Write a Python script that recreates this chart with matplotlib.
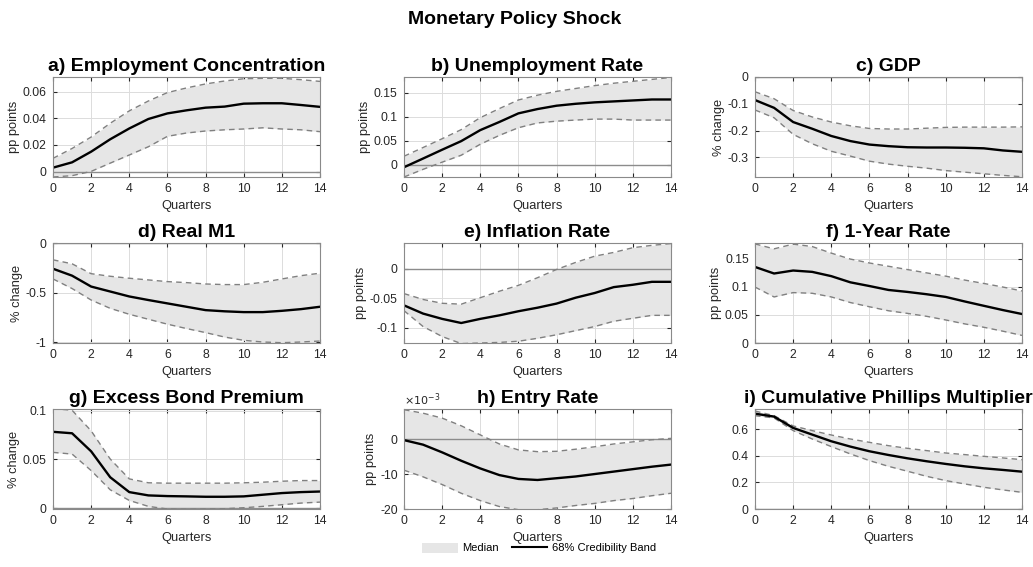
#!/usr/bin/env python3
"""Impulse responses to a monetary policy shock, 3x3 panel grid."""

import matplotlib

matplotlib.use("Agg")

import matplotlib.pyplot as plt
import numpy as np
from matplotlib.lines import Line2D
from matplotlib.patches import Patch
from matplotlib.ticker import FuncFormatter

plt.rcParams["font.family"] = ["Liberation Sans", "DejaVu Sans"]

quarters = np.arange(15)

titles = [
    "a) Employment Concentration", "b) Unemployment Rate", "c) GDP",
    "d) Real M1", "e) Inflation Rate", "f) 1-Year Rate",
    "g) Excess Bond Premium", "h) Entry Rate", "i) Cumulative Phillips Multiplier",
]
ylabels = ["pp points", "pp points", "% change",
           "% change", "pp points", "pp points",
           "% change", "pp points", ""]

emp_med = [0.003, 0.007, 0.015, 0.0243, 0.0324, 0.0395, 0.0437, 0.046, 0.048, 0.0488,
           0.051, 0.0513, 0.0513, 0.050, 0.0486]
emp_hi = [0.010, 0.0174, 0.026, 0.0363, 0.0456, 0.053, 0.0593, 0.0628, 0.0658, 0.068,
          0.0697, 0.070, 0.070, 0.069, 0.0677]
emp_lo = [-0.004, -0.003, 0.0002, 0.0064, 0.0125, 0.0187, 0.0265, 0.029, 0.0305, 0.0314,
          0.032, 0.0329, 0.032, 0.0314, 0.030]

unemp_med = [-0.0056, 0.0126, 0.031, 0.049, 0.072, 0.089, 0.107, 0.116, 0.123, 0.127,
             0.130, 0.132, 0.134, 0.136, 0.136]
unemp_hi = [0.0174, 0.0356, 0.054, 0.073, 0.098, 0.117, 0.135, 0.145, 0.153, 0.159,
            0.165, 0.170, 0.174, 0.178, 0.182]
unemp_lo = [-0.026, -0.010, 0.005, 0.0195, 0.0425, 0.061, 0.077, 0.087, 0.0907, 0.093,
            0.095, 0.095, 0.093, 0.093, 0.093]

gdp_med = [-0.086, -0.115, -0.168, -0.193, -0.22, -0.239, -0.252, -0.258, -0.262, -0.263,
           -0.263, -0.264, -0.266, -0.274, -0.279]
gdp_hi = [-0.055, -0.081, -0.125, -0.149, -0.168, -0.182, -0.192, -0.194, -0.194, -0.191,
          -0.188, -0.187, -0.187, -0.187, -0.186]
gdp_lo = [-0.123, -0.152, -0.214, -0.249, -0.277, -0.295, -0.314, -0.325, -0.333, -0.340,
          -0.349, -0.355, -0.361, -0.367, -0.372]

m1_med = [-0.26, -0.33, -0.44, -0.49, -0.54, -0.576, -0.61, -0.644, -0.678, -0.69,
          -0.698, -0.698, -0.685, -0.668, -0.644]
m1_hi = [-0.17, -0.21, -0.31, -0.336, -0.356, -0.373, -0.39, -0.40, -0.414, -0.42,
         -0.42, -0.397, -0.363, -0.33, -0.305]
m1_lo = [-0.363, -0.46, -0.576, -0.66, -0.72, -0.77, -0.82, -0.864, -0.905, -0.95,
         -0.983, -1.0, -1.007, -1.0, -0.99]

infl_med = [-0.062, -0.076, -0.085, -0.092, -0.085, -0.079, -0.072, -0.066, -0.059, -0.049,
            -0.041, -0.031, -0.027, -0.022, -0.022]
infl_hi = [-0.042, -0.052, -0.0585, -0.060, -0.049, -0.038, -0.028, -0.015, -0.001, 0.011,
           0.0216, 0.028, 0.036, 0.040, 0.043]
infl_lo = [-0.071, -0.098, -0.115, -0.127, -0.126, -0.125, -0.123, -0.118, -0.112, -0.105,
           -0.098, -0.089, -0.084, -0.079, -0.079]

rate_med = [0.1354, 0.1237, 0.129, 0.1266, 0.119, 0.108, 0.1014, 0.0944, 0.0909, 0.0868,
            0.082, 0.0739, 0.0662, 0.0586, 0.0516]
rate_hi = [0.1764, 0.1676, 0.176, 0.1717, 0.160, 0.1494, 0.1424, 0.1366, 0.1307, 0.1248,
           0.119, 0.112, 0.106, 0.0996, 0.0926]
rate_lo = [0.0996, 0.082, 0.0897, 0.0885, 0.082, 0.072, 0.0645, 0.0574, 0.0527, 0.0475,
           0.041, 0.034, 0.028, 0.021, 0.0135]

ebp_med = [0.0785, 0.077, 0.0584, 0.0317, 0.0164, 0.013, 0.0123, 0.012, 0.0116, 0.0116,
           0.012, 0.0137, 0.0154, 0.0164, 0.017]
ebp_hi = [0.1024, 0.1007, 0.0795, 0.0505, 0.030, 0.026, 0.0256, 0.0256, 0.0256, 0.0256,
          0.026, 0.0266, 0.0276, 0.0283, 0.0283]
ebp_lo = [0.0573, 0.0556, 0.0386, 0.0188, 0.0078, 0.0017, -0.001, -0.0013, -0.001, -0.0007,
          0.0003, 0.0017, 0.0034, 0.0051, 0.0061]

entry_med = [-0.0003, -0.0016, -0.0038, -0.0062, -0.0084, -0.0103, -0.0114, -0.0117, -0.0112,
             -0.0107, -0.0100, -0.0093, -0.0086, -0.0079, -0.0073]
entry_hi = [0.0084, 0.0074, 0.0060, 0.0038, 0.0012, -0.0014, -0.0031, -0.0036, -0.0035,
            -0.0029, -0.0022, -0.0014, -0.0008, -0.0002, 0.0002]
entry_lo = [-0.0089, -0.0108, -0.0130, -0.0155, -0.0176, -0.0193, -0.0202, -0.0202, -0.0197,
            -0.0190, -0.0184, -0.0176, -0.0170, -0.0162, -0.0155]

phil_med = [0.715, 0.693, 0.608, 0.558, 0.508, 0.468, 0.433, 0.405, 0.38, 0.358,
            0.338, 0.32, 0.305, 0.293, 0.28]
phil_hi = [0.735, 0.70, 0.623, 0.588, 0.555, 0.525, 0.50, 0.475, 0.455, 0.438,
           0.42, 0.408, 0.395, 0.383, 0.37]
phil_lo = [0.70, 0.683, 0.588, 0.525, 0.468, 0.413, 0.363, 0.32, 0.283, 0.245,
           0.213, 0.188, 0.163, 0.143, 0.125]

medians = [emp_med, unemp_med, gdp_med, m1_med, infl_med, rate_med, ebp_med, entry_med, phil_med]
uppers = [emp_hi, unemp_hi, gdp_hi, m1_hi, infl_hi, rate_hi, ebp_hi, entry_hi, phil_hi]
lowers = [emp_lo, unemp_lo, gdp_lo, m1_lo, infl_lo, rate_lo, ebp_lo, entry_lo, phil_lo]

ylims = [(-0.004, 0.071), (-0.026, 0.183), (-0.373, 0.0), (-1.01, 0.0), (-0.126, 0.044),
         (0.0, 0.178), (-0.001, 0.102), (-0.020, 0.0086), (0.0, 0.75)]
yticks = [[0, 0.02, 0.04, 0.06], [0, 0.05, 0.1, 0.15], [-0.3, -0.2, -0.1, 0],
          [-1, -0.5, 0], [-0.1, -0.05, 0], [0, 0.05, 0.1, 0.15],
          [0, 0.05, 0.1], [-0.02, -0.01, 0], [0, 0.2, 0.4, 0.6]]

FIG_W, FIG_H = 1033, 567
COL_LEFT = [53, 404, 755]
ROW_TOP = [77, 243, 409]
AX_W, AX_H = 267, 100
FILL = "#e6e6e6"
DASH = "#808080"
TEXT = "#262626"


def draw_panel(ax, k):
    ax.fill_between(quarters, lowers[k], uppers[k], color=FILL, linewidth=0, zorder=1)
    ax.axhline(0, color="#8c8c8c", linewidth=1.0, zorder=2)
    ax.plot(quarters, uppers[k], color=DASH, linestyle=(0, (4, 3)), linewidth=1.0, zorder=3)
    ax.plot(quarters, lowers[k], color=DASH, linestyle=(0, (4, 3)), linewidth=1.0, zorder=3)
    ax.plot(quarters, medians[k], color="black", linewidth=1.7, zorder=4)

    ax.set_xlim(0, 14)
    ax.set_ylim(*ylims[k])
    ax.set_xticks(range(0, 15, 2))
    ax.set_yticks(yticks[k])
    if k == 7:
        ax.yaxis.set_major_formatter(FuncFormatter(lambda v, _: f"{v * 1000:g}"))
        ax.text(0.0, 1.01, r"$\times10^{-3}$", transform=ax.transAxes, fontsize=8,
                color=TEXT, ha="left", va="bottom")
    else:
        ax.yaxis.set_major_formatter(FuncFormatter(lambda v, _: f"{v:g}"))

    ax.grid(True, color="#dcdcdc", linewidth=0.7, zorder=0)
    ax.set_axisbelow(True)
    ax.tick_params(direction="in", length=3, labelsize=8.8, colors=TEXT,
                   top=True, right=True, pad=4.5)
    for spine in ax.spines.values():
        spine.set_color("#8a8a8a")
        spine.set_linewidth(0.8)
        spine.set_zorder(5)

    ax.set_title(titles[k], fontsize=14, fontweight="bold", pad=4)
    ax.set_xlabel("Quarters", fontsize=9.3, color=TEXT, labelpad=3.5)
    if ylabels[k]:
        ax.set_ylabel(ylabels[k], fontsize=9.3, color=TEXT, labelpad=2)


def main():
    fig = plt.figure(figsize=(FIG_W / 100, FIG_H / 100), dpi=100)
    for k in range(9):
        row, col = divmod(k, 3)
        left = COL_LEFT[col] / FIG_W
        bottom = 1 - (ROW_TOP[row] + AX_H) / FIG_H
        ax = fig.add_axes([left, bottom, AX_W / FIG_W, AX_H / FIG_H])
        draw_panel(ax, k)

    fig.text(515 / FIG_W, 1 - 20 / FIG_H, "Monetary Policy Shock", fontsize=14,
             fontweight="bold", ha="center", va="center")

    handles = [Patch(facecolor=FILL, edgecolor="none", label="Median"),
               Line2D([], [], color="black", linewidth=1.5, label="68% Credibility Band")]
    fig.legend(handles=handles, loc="center", bbox_to_anchor=(539 / FIG_W, 1 - 548 / FIG_H),
               ncol=2, frameon=False, fontsize=8, handlelength=3.2, handleheight=1.0,
               columnspacing=1.2, handletextpad=0.4)

    fig.savefig("out.png", dpi=100)
    plt.close(fig)


if __name__ == "__main__":
    main()
